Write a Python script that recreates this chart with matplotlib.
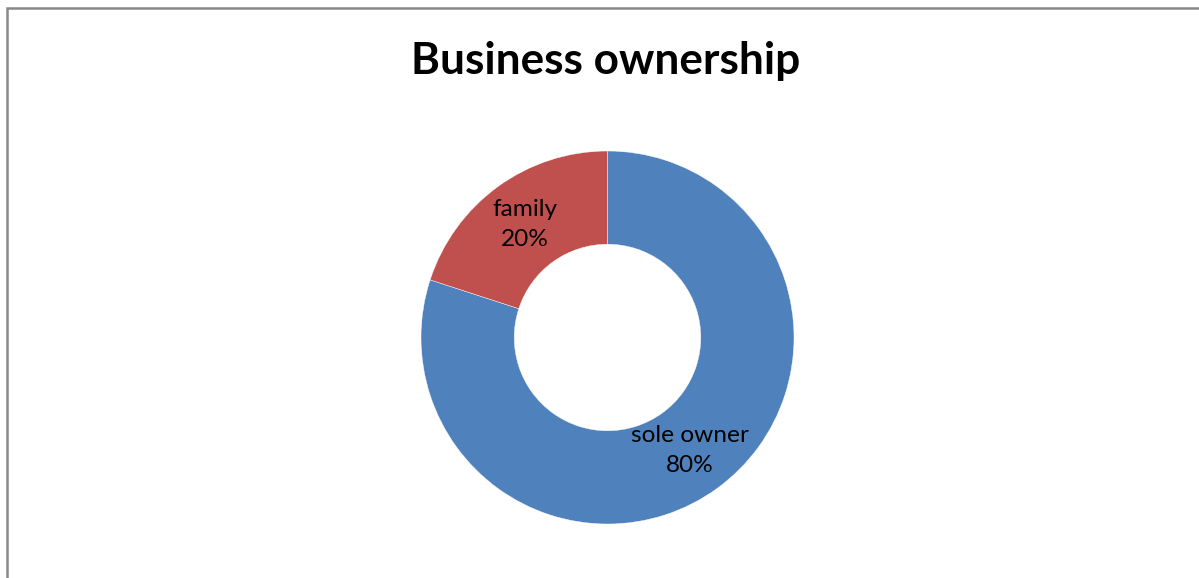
import matplotlib.pyplot as plt
import numpy as np
from matplotlib.patches import Rectangle

# Ownership shares (percent), drawn clockwise from 12 o'clock
categories = ["sole owner", "family"]
shares = [80, 20]
colors = ["#4F81BD", "#C0504D"]
title = "Business ownership"

plt.rcParams['font.family'] = ['Lato', 'DejaVu Sans']

W, H = 1199, 578
fig = plt.figure(figsize=(W / 100, H / 100), dpi=100)
fig.patch.set_facecolor("white")

# Chart-area frame (left and top edges visible)
fig.add_artist(Rectangle((7 / W, -0.5), 2.0, (H - 8) / H + 0.5,
                         transform=fig.transFigure, fill=False,
                         edgecolor="#888888", linewidth=1.8))

# Square axes holding the donut
cx, cy, r = 607.5, 337.5, 186.5
ax = fig.add_axes([(cx - r) / W, (H - cy - r) / H, 2 * r / W, 2 * r / H])
wedges, _ = ax.pie(shares, colors=colors, startangle=90, counterclock=False,
                   radius=1.0, wedgeprops=dict(width=0.5, edgecolor="white",
                                               linewidth=0.3))
ax.set_xlim(-1, 1)
ax.set_ylim(-1, 1)
ax.set_aspect("equal")
ax.axis("off")

# Data labels in the middle of the ring
total = sum(shares)
for w, name, val in zip(wedges, categories, shares):
    mid = np.deg2rad((w.theta1 + w.theta2) / 2)
    ax.text(0.75 * np.cos(mid), 0.75 * np.sin(mid),
            f"{name}\n{val / total * 100:.0f}%",
            ha="center", va="center", fontsize=17.6, linespacing=1.5,
            color="black")

fig.text(606 / W, 1 - 61 / H, title, ha="center", va="center",
         fontsize=31.8, fontweight="bold")

fig.savefig("out.png", dpi=100)
